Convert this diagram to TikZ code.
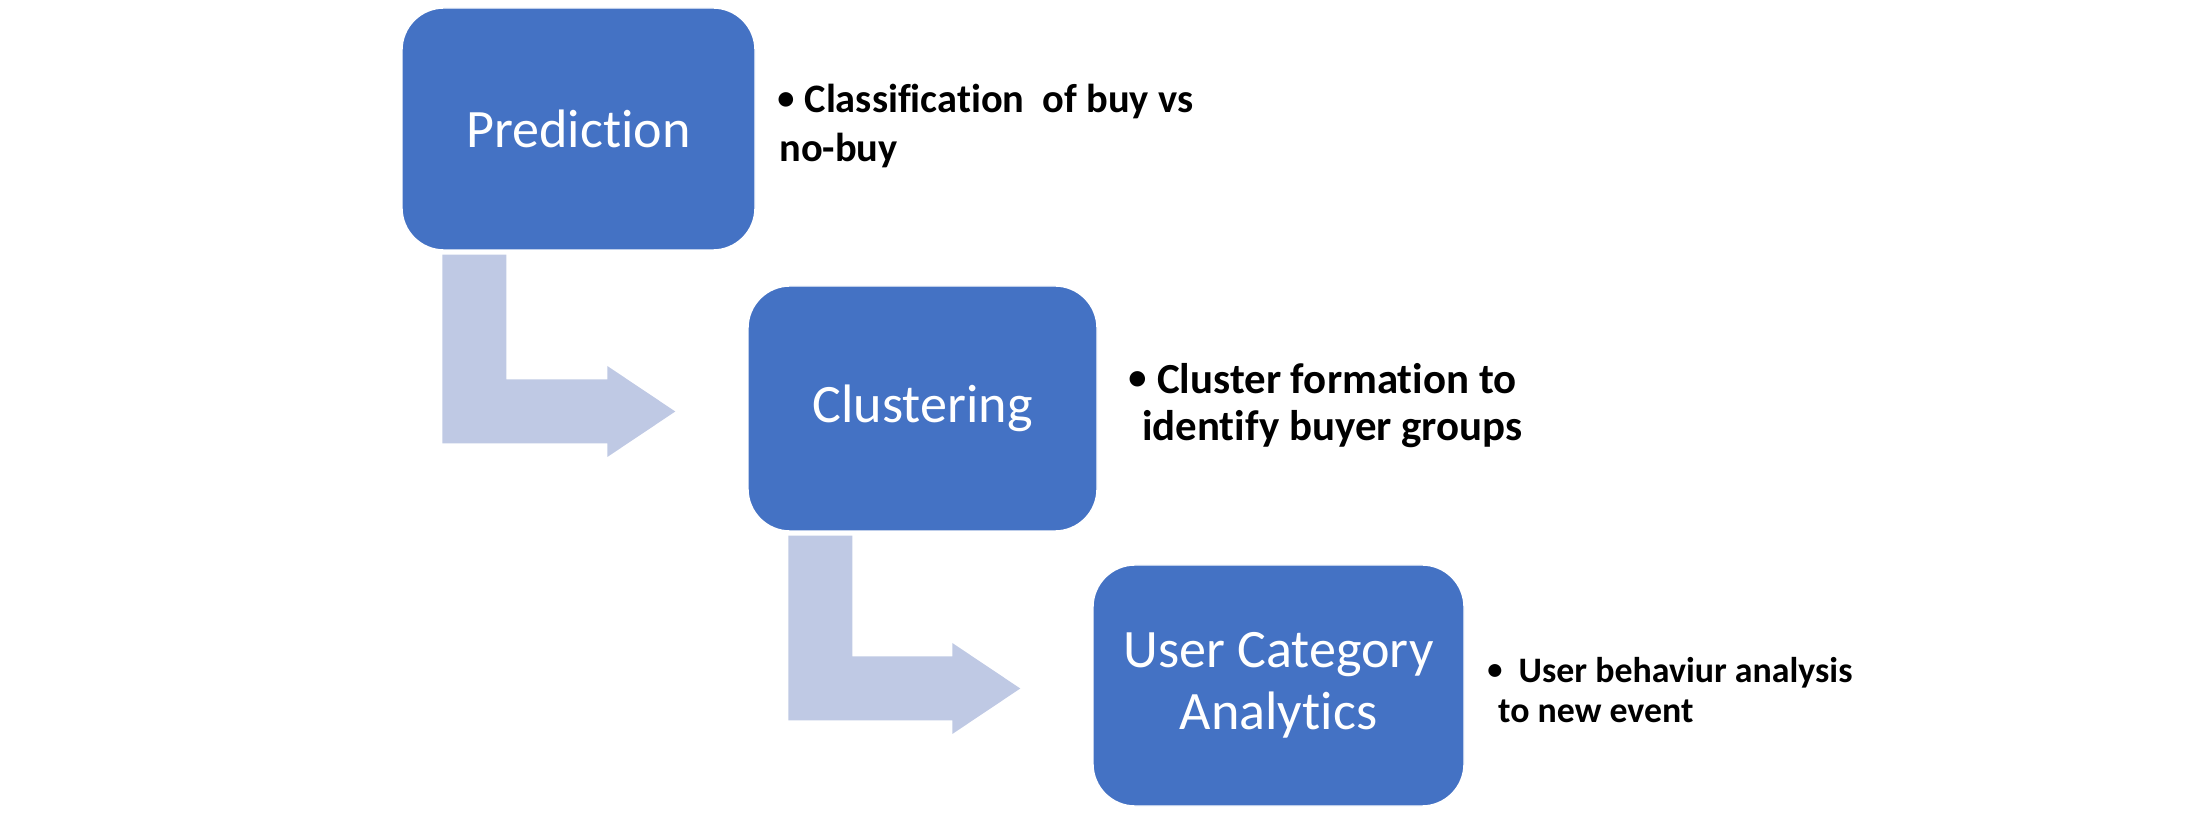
\documentclass[tikz,border=0pt]{standalone}
\usepackage{fontspec}
\setmainfont{Carlito}[Ligatures=NoCommon]
\usepackage{xcolor}
\usetikzlibrary{calc}
\definecolor{boxblue}{RGB}{68,114,196}
\definecolor{flowblue}{RGB}{191,201,228}

\begin{document}
\begin{tikzpicture}[
  stage/.style={fill=boxblue, draw=white, rounded corners=0.42cm, text=white, align=center, inner sep=0pt, font=\fontsize{15.4}{17.6}\selectfont},
  note/.style={anchor=west, align=left, inner sep=0pt},
  flow/.style={fill=flowblue}]
  \useasboundingbox (0,0) rectangle (21.91,-8.15);
  \node[stage, minimum width=3.53cm, minimum height=2.42cm] (pred) at (5.785,-1.29) {Prediction};
  \node[stage, minimum width=3.49cm, minimum height=2.45cm] (clus) at (9.225,-4.085) {Clustering};
  \node[stage, minimum width=3.71cm, minimum height=2.41cm] (user) at (12.785,-6.855) {User Category\\Analytics};
  % bent arrows between the stages
  \foreach \a/\b in {pred/clus, clus/user}
    \fill[flow] let \p1=($(\a.south west)+(0.41,-0.04)$), \p2=($(\b.west)+(-0.72,-0.03)$) in
      (\x1,\y1) -- (\x1+0.64cm,\y1) -- (\x1+0.64cm,\y2+0.32cm) -- (\x2-0.68cm,\y2+0.32cm)
      -- (\x2-0.68cm,\y2+0.455cm) -- (\x2,\y2) -- (\x2-0.68cm,\y2-0.455cm)
      -- (\x2-0.68cm,\y2-0.32cm) -- (\x1,\y2-0.32cm) -- cycle;
  \node[note, font=\bfseries\fontsize{11.5}{13.7}\selectfont] (predtxt) at ($(pred.east)+(0.21,0.03)$)
    {\raisebox{0.08em}{\scalebox{0.85}{\textbullet}}\hspace{0.25em}Classification\ \ of buy vs\\\hspace*{0.05em}no-buy};
  \node[note, font=\bfseries\fontsize{12.2}{13.5}\selectfont] (clustxt) at ($(clus.east)+(0.30,0.03)$)
    {\raisebox{0.08em}{\scalebox{0.85}{\textbullet}}\hspace{0.25em}Cluster formation to\\\hspace*{0.32em}identify buyer groups};
  \node[note, font=\bfseries\fontsize{10.2}{11.6}\selectfont] (usertxt) at ($(user.east)+(0.22,-0.045)$)
    {\raisebox{0.08em}{\scalebox{0.85}{\textbullet}}\hspace{0.45em}User behaviur analysis\\\hspace*{0.3em}to new event};
\end{tikzpicture}
\end{document}
